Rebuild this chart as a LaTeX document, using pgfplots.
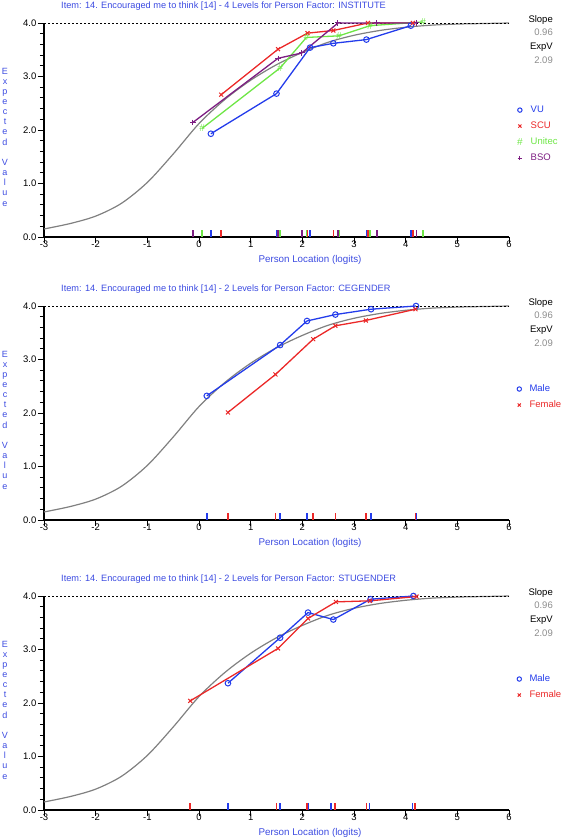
\documentclass[border=0pt]{standalone}
\usepackage{fontspec}
\setmainfont{Liberation Sans}
\usepackage{pgfplots}
\pgfplotsset{compat=1.18}
\definecolor{vublue}{RGB}{35,60,235}
\definecolor{scured}{RGB}{235,40,40}
\definecolor{unigreen}{RGB}{110,230,70}
\definecolor{bsopurple}{RGB}{125,30,130}
\definecolor{curvegray}{RGB}{128,128,128}
\definecolor{numgray}{RGB}{140,140,140}
\definecolor{titleblue}{RGB}{60,75,225}
\newcommand\sm{\fontsize{9.5}{10}\selectfont}
\pgfplotsset{
  panel/.style={
    scale only axis, width=465pt, height=214pt,
    xmin=-3, xmax=6, ymin=0, ymax=4, clip=false,
    axis x line*=bottom, axis y line*=left,
    axis line style={-, line width=1.1pt, black},
    xtick={-3,...,6}, xticklabels={-3,-2,-1,0,1,2,3,4,5,6},
    ytick={0,1,2,3,4}, yticklabels={0.0,1.0,2.0,3.0,4.0},
    minor y tick num=4,
    tick align=outside, major tick length=6pt, minor tick length=4pt,
    tick style={black, line width=0.9pt},
    xticklabel style={font=\sm, inner sep=1pt, yshift=3pt},
    yticklabel style={font=\sm, inner sep=1.5pt},
    legend cell align=left,
    legend image code/.code={\draw[##1, only marks, mark size=2.2pt] plot coordinates {(0pt,0pt)};},
    legend style={draw=none, fill=none, inner sep=0pt, font=\sm, row sep=7pt,
      column sep=8pt,
      nodes={inner sep=0pt, text height=7pt, text depth=2pt}},
  },
  gcurve/.style={curvegray, line width=1.2pt, smooth, no marks, forget plot},
  dashfour/.style={black, line width=0.8pt, dash pattern=on 2pt off 2pt, no marks, forget plot},
  comb/.style={ycomb, no marks, line width=1.6pt, forget plot},
  vu/.style={vublue, line width=1.3pt, mark=o, mark size=2.8pt, mark options={line width=1pt}},
  scu/.style={scured, line width=1.3pt, mark=x, mark size=2.8pt, mark options={line width=1pt}},
  uni/.style={unigreen, line width=1.3pt, mark=text, text mark={\color{unigreen}\fontsize{10}{10}\selectfont\#}},
  bso/.style={bsopurple, line width=1.3pt, mark=+, mark size=2.8pt, mark options={line width=1pt}},
}
\newcommand\gray{\addplot[gcurve] coordinates {(-3,0.15) (-2.5,0.25) (-2,0.39) (-1.5,0.63) (-1,1.02) (-0.5,1.55) (0,2.12) (0.5,2.57) (1,2.93) (1.5,3.22) (2,3.45) (2.5,3.64) (3,3.77) (3.5,3.86) (4,3.92) (4.5,3.96) (5,3.98) (5.5,3.99) (6,4.0)};
\addplot[dashfour] coordinates {(-3,4) (6,4)};}
\begin{document}
\begin{tikzpicture}
\path[use as bounding box] (0,0) rectangle (567pt,840pt);
% ---------- Panel 1 ----------
\begin{axis}[panel, at={(44pt,603pt)}, anchor=south west,
  legend style={at={(axis description cs:1.017,0.615)}, anchor=north west}]
\gray
\addplot[comb, vublue] coordinates {(0.23,0.13) (1.50,0.13) (2.15,0.13) (2.60,0.13) (3.24,0.13) (4.10,0.13)};
\addplot[comb, scured] coordinates {(0.43,0.13) (1.53,0.13) (2.10,0.13) (2.60,0.13) (3.27,0.13) (4.14,0.13)};
\addplot[comb, unigreen] coordinates {(0.06,0.13) (1.57,0.13) (2.08,0.13) (2.71,0.13) (3.31,0.13) (4.34,0.13)};
\addplot[comb, bsopurple] coordinates {(-0.12,0.13) (1.53,0.13) (1.99,0.13) (2.69,0.13) (3.44,0.13) (4.21,0.13)};
\addplot[vu] coordinates {(0.23,1.93) (1.50,2.68) (2.15,3.54) (2.60,3.62) (3.24,3.69) (4.10,3.95)};
\addplot[scu] coordinates {(0.43,2.66) (1.53,3.51) (2.10,3.81) (2.60,3.86) (3.27,4.00) (4.14,4.00)};
\addplot[uni] coordinates {(0.06,2.03) (1.57,3.16) (2.08,3.73) (2.71,3.76) (3.31,3.95) (4.34,4.02)};
\addplot[bso] coordinates {(-0.12,2.14) (1.53,3.34) (1.99,3.44) (2.69,4.00) (3.44,4.00) (4.21,4.00)};
\legend{\textcolor{vublue}{VU},\textcolor{scured}{SCU},\textcolor{unigreen}{Unitec},\textcolor{bsopurple}{BSO}}
\end{axis}
% ---------- Panel 2 ----------
\begin{axis}[panel, at={(44pt,320pt)}, anchor=south west,
  legend style={at={(axis description cs:1.017,0.634)}, anchor=north west}]
\gray
\addplot[comb, vublue] coordinates {(0.15,0.13) (1.57,0.13) (2.09,0.13) (2.64,0.13) (3.33,0.13) (4.20,0.13)};
\addplot[comb, scured] coordinates {(0.56,0.13) (1.48,0.13) (2.21,0.13) (2.64,0.13) (3.23,0.13) (4.19,0.13)};
\addplot[vu] coordinates {(0.15,2.32) (1.57,3.27) (2.09,3.72) (2.64,3.84) (3.33,3.94) (4.20,4.00)};
\addplot[scu] coordinates {(0.56,2.01) (1.48,2.72) (2.21,3.38) (2.64,3.63) (3.23,3.73) (4.19,3.94)};
\legend{\textcolor{vublue}{Male},\textcolor{scured}{Female}}
\end{axis}
% ---------- Panel 3 ----------
\begin{axis}[panel, at={(44pt,30pt)}, anchor=south west,
  legend style={at={(axis description cs:1.017,0.634)}, anchor=north west}]
\gray
\addplot[comb, vublue] coordinates {(0.56,0.13) (1.57,0.13) (2.11,0.13) (2.55,0.13) (3.30,0.13) (4.13,0.13)};
\addplot[comb, scured] coordinates {(-0.18,0.13) (1.50,0.13) (2.09,0.13) (2.63,0.13) (3.24,0.13) (4.18,0.13)};
\addplot[vu] coordinates {(0.56,2.37) (1.57,3.22) (2.11,3.69) (2.60,3.56) (3.32,3.94) (4.15,4.00)};
\addplot[scu] coordinates {(-0.17,2.04) (1.53,3.02) (2.11,3.58) (2.65,3.89) (3.31,3.91) (4.21,3.99)};
\legend{\textcolor{vublue}{Male},\textcolor{scured}{Female}}
\end{axis}
% ---------- texts ----------
\foreach \ty/\zy/\ttl in {817/603/{4 Levels for Person Factor: INSTITUTE}, 534/320/{2 Levels for Person Factor: CEGENDER}, 244/30/{2 Levels for Person Factor: STUGENDER}}{
  \node[anchor=west, inner sep=0pt, text=titleblue, font=\fontsize{9.2}{10}\selectfont] at (61pt,\ty pt+17pt) {Item: 14. Encouraged me to think [14] - \ttl};
  \node[anchor=east, inner sep=0pt, font=\sm] at (553pt,\ty pt+3.3pt) {Slope};
  \node[anchor=east, inner sep=0pt, font=\sm, text=numgray] at (553pt,\ty pt-9pt) {0.96};
  \node[anchor=east, inner sep=0pt, font=\sm] at (553pt,\ty pt-24pt) {ExpV};
  \node[anchor=east, inner sep=0pt, font=\sm, text=numgray] at (553pt,\ty pt-37pt) {2.09};
  \node[inner sep=0pt, text=titleblue, font=\fontsize{9.8}{10}\selectfont] at (310pt,\zy pt-23pt) {Person Location (logits)};
  \node[inner sep=0pt, align=center, text=titleblue, font=\fontsize{9}{10.15}\selectfont] at (5pt,\zy pt+100pt) {E\\x\\p\\e\\c\\t\\e\\d\\[10.15pt]V\\a\\l\\u\\e};
}
\end{tikzpicture}
\end{document}
